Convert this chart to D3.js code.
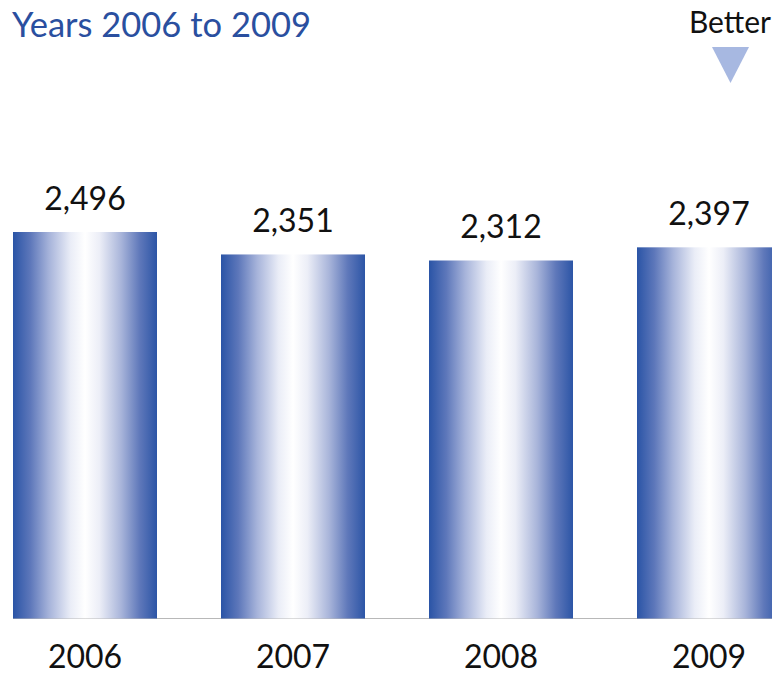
<!DOCTYPE html>
<html>
<head>
<meta charset="utf-8">
<script src="https://cdn.jsdelivr.net/npm/d3@7"></script>
<style>
  html, body { margin: 0; padding: 0; background: #fff; }
  svg { display: block; }
  text { font-family: Lato, "Noto Sans", sans-serif; }
</style>
</head>
<body>
<svg id="chart" width="772" height="673"></svg>
<script>
// Data
const years = ["2006", "2007", "2008", "2009"];
const values = [2496, 2351, 2312, 2397];
const valueLabels = ["2,496", "2,351", "2,312", "2,397"];
const titleText = "Years 2006 to 2009";
const betterText = "Better";

const W = 772, H = 673;
const svg = d3.select("#chart");

// Layout
const x = d3.scaleBand()
  .domain(years)
  .range([13 - 32, 13 - 32 + 208 * 4])
  .paddingInner(64 / 208)
  .paddingOuter(32 / 208);

const y = d3.scaleLinear()
  .domain([0, 2496])
  .range([618.5, 232]);

// Horizontal gradient used to shade each bar like a cylinder
const defs = svg.append("defs");
const grad = defs.append("linearGradient")
  .attr("id", "barShade")
  .attr("x1", "0%").attr("x2", "100%")
  .attr("y1", "0%").attr("y2", "0%");
[
  [0, "#2a54a6"],
  [0.12, "#5d77ba"],
  [0.25, "#a6b3da"],
  [0.4, "#eaedf7"],
  [0.5, "#ffffff"],
  [0.6, "#eceef7"],
  [0.75, "#a9b5da"],
  [0.88, "#5f78ba"],
  [1, "#2c55a6"]
].forEach(([o, c]) => grad.append("stop").attr("offset", o).attr("stop-color", c));

// Baseline
svg.append("line")
  .attr("x1", 13).attr("x2", W)
  .attr("y1", y(0)).attr("y2", y(0))
  .attr("stroke", "#b8b8b8")
  .attr("stroke-width", 1.2);

// Bars
svg.append("g").selectAll("rect")
  .data(years)
  .join("rect")
  .attr("x", d => x(d))
  .attr("width", x.bandwidth())
  .attr("y", (d, i) => y(values[i]))
  .attr("height", (d, i) => y(0) - y(values[i]))
  .attr("fill", "url(#barShade)");

// Value labels
svg.append("g").selectAll("text")
  .data(years)
  .join("text")
  .attr("x", d => x(d) + x.bandwidth() / 2)
  .attr("y", (d, i) => y(values[i]) - 22)
  .attr("text-anchor", "middle")
  .attr("font-size", 32)
  .attr("fill", "#111")
  .text((d, i) => valueLabels[i]);

// Category labels
svg.append("g").selectAll("text")
  .data(years)
  .join("text")
  .attr("x", d => x(d) + x.bandwidth() / 2)
  .attr("y", 668)
  .attr("text-anchor", "middle")
  .attr("font-size", 32)
  .attr("fill", "#111")
  .text(d => d);

// Title
svg.append("text")
  .attr("x", 12)
  .attr("y", 37)
  .attr("font-size", 34.5)
  .attr("fill", "#2a4f9f")
  .text(titleText);

// "Better" marker with downward triangle
svg.append("text")
  .attr("x", 730)
  .attr("y", 33)
  .attr("text-anchor", "middle")
  .attr("font-size", 30)
  .attr("fill", "#111")
  .text(betterText);

svg.append("path")
  .attr("d", d3.line()([[712, 47], [749, 47], [730.5, 83]]) + "Z")
  .attr("fill", "#a7b8e1");
</script>
</body>
</html>
